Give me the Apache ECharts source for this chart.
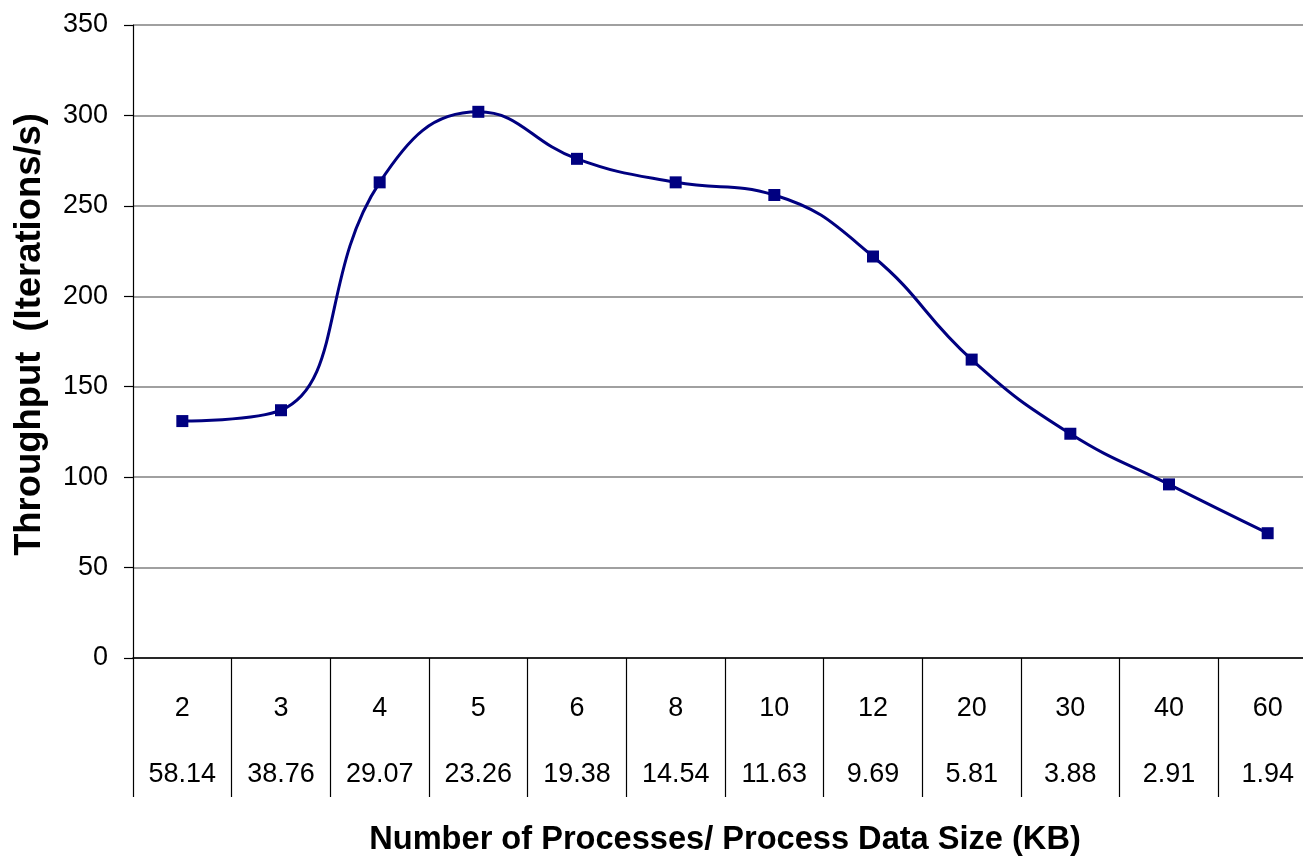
<!DOCTYPE html>
<html>
<head>
<meta charset="utf-8">
<script src="https://cdn.jsdelivr.net/npm/echarts@6/dist/echarts.min.js"></script>
<style>
html,body{margin:0;padding:0;background:#fff;overflow:hidden;}
#chart{width:1303px;height:858px;}
</style>
</head>
<body>
<div id="chart"></div>
<script>
const processes = ['2','3','4','5','6','8','10','12','20','30','40','60'];
const dataSizes = ['58.14','38.76','29.07','23.26','19.38','14.54','11.63','9.69','5.81','3.88','2.91','1.94'];
const throughput = [131, 137, 263, 302, 276, 263, 256, 222, 165, 124, 96, 69];
const yTicks = [0, 50, 100, 150, 200, 250, 300, 350];

const catLabels = processes.map((p, i) => p + '\n' + dataSizes[i]);
const FONT = '"Liberation Sans", Arial, sans-serif';

const chart = echarts.init(document.getElementById('chart'));
chart.setOption({
  animation: false,
  backgroundColor: '#ffffff',
  grid: { left: 133, top: 25, width: 1184, height: 633, containLabel: false, outerBoundsMode: 'none' },
  xAxis: {
    type: 'category',
    data: catLabels,
    boundaryGap: true,
    name: 'Number of Processes/ Process Data Size (KB)',
    nameLocation: 'middle',
    nameGap: 166,
    nameTextStyle: { fontFamily: FONT, fontSize: 32.6, fontWeight: 'bold', color: '#000', verticalAlign: 'top' },
    axisLine: { show: true, lineStyle: { color: '#000', width: 1.5 } },
    axisTick: { show: true, interval: 0, length: 139, lineStyle: { color: '#000', width: 1.2 } },
    axisLabel: { interval: 0, margin: 18, fontFamily: FONT, fontSize: 27, color: '#000', lineHeight: 66, verticalAlign: 'top' },
    splitLine: { show: false }
  },
  yAxis: {
    type: 'value',
    min: 0, max: 350, interval: 50,
    name: 'Throughput  (Iterations/s)',
    nameLocation: 'middle',
    nameGap: 85,
    nameRotate: 90,
    nameTextStyle: { fontFamily: FONT, fontSize: 36.4, fontWeight: 'bold', color: '#000', padding: [0, 0, 0, 14] },
    axisLine: { show: true, lineStyle: { color: '#000', width: 1.2 } },
    axisTick: { show: true, inside: false, length: 9, lineStyle: { color: '#000', width: 1.2 } },
    axisLabel: { margin: 25, fontFamily: FONT, fontSize: 27, color: '#000',
      formatter: v => yTicks.includes(v) ? String(v) : '' },
    splitLine: { show: true, lineStyle: { color: '#808080', width: 1.5 } }
  },
  series: [{
    type: 'line',
    data: throughput,
    smooth: 0.45,
    symbol: 'rect',
    symbolSize: 12,
    showAllSymbol: true,
    lineStyle: { color: '#000080', width: 3 },
    itemStyle: { color: '#000080' },
    z: 5
  }]
});
</script>
</body>
</html>
